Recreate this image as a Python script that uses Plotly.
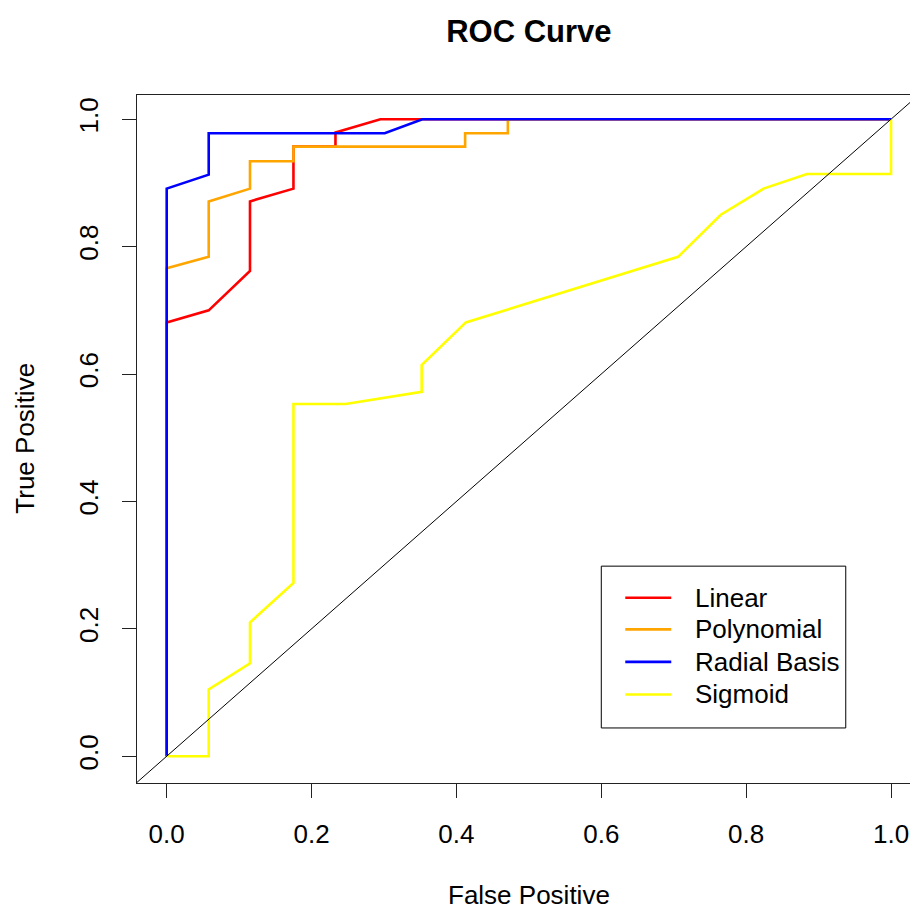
import plotly.graph_objects as go

# ---- data ----
fpr_linear = [0, 0, 0.058, 0.115, 0.115, 0.175, 0.175, 0.233, 0.233, 0.295, 1.0]
tpr_linear = [0, 0.681, 0.700, 0.762, 0.871, 0.891, 0.957, 0.957, 0.979, 1.0, 1.0]

fpr_poly = [0, 0, 0.058, 0.058, 0.115, 0.115, 0.175, 0.175, 0.412, 0.412, 0.471, 0.471, 1.0]
tpr_poly = [0, 0.766, 0.784, 0.871, 0.891, 0.934, 0.934, 0.957, 0.957, 0.978, 0.978, 1.0, 1.0]

fpr_radial = [0, 0, 0.058, 0.058, 0.301, 0.353, 1.0]
tpr_radial = [0, 0.891, 0.913, 0.978, 0.978, 1.0, 1.0]

fpr_sigmoid = [0, 0.058, 0.058, 0.115, 0.115, 0.175, 0.175, 0.247, 0.352, 0.352,
               0.413, 0.706, 0.765, 0.824, 0.884, 1.0, 1.0]
tpr_sigmoid = [0, 0, 0.105, 0.146, 0.210, 0.272, 0.553, 0.553, 0.572, 0.614,
               0.681, 0.784, 0.850, 0.891, 0.914, 0.914, 1.0]

series_names = ["Linear", "Polynomial", "Radial Basis", "Sigmoid"]
series_colors = ["#FF0000", "#FFA500", "#0000FF", "#FFFF00"]
series_x = [fpr_linear, fpr_poly, fpr_radial, fpr_sigmoid]
series_y = [tpr_linear, tpr_poly, tpr_radial, tpr_sigmoid]

tick_vals = [0, 0.2, 0.4, 0.6, 0.8, 1.0]
tick_text = ["0.0", "0.2", "0.4", "0.6", "0.8", "1.0"]

diag = [-0.2, 1.2]

FONT = "Liberation Sans, Arial, sans-serif"

fig = go.Figure()
for nm, col, xs, ys in zip(series_names, series_colors, series_x, series_y):
    fig.add_trace(go.Scatter(x=xs, y=ys, mode="lines", name=nm,
                             line=dict(color=col, width=2.6), showlegend=False))
fig.add_trace(go.Scatter(x=diag, y=diag, mode="lines", name="chance",
                         line=dict(color="black", width=1), showlegend=False))

# manual legend (R-style box)
lx0, lx1, ly0, ly1 = 0.600, 0.9375, 0.0444, 0.2984
fig.add_shape(type="rect", xref="x", yref="y", x0=lx0, x1=lx1, y0=ly0, y1=ly1,
              line=dict(color="black", width=1), fillcolor="white", layer="above")
row_y = [0.2487, 0.1991, 0.1482, 0.0970]
for nm, col, ry in zip(series_names, series_colors, row_y):
    fig.add_shape(type="line", xref="x", yref="y", x0=0.6331, x1=0.6966, y0=ry, y1=ry,
                  line=dict(color=col, width=2.6), layer="above")
    fig.add_annotation(x=0.7262, y=ry, xref="x", yref="y", text=nm, showarrow=False,
                       xanchor="left", yanchor="middle",
                       font=dict(family=FONT, size=26, color="black"))

# axis titles
fig.add_annotation(x=0.507, y=-0.163, xref="paper", yref="paper", text="False Positive",
                   showarrow=False, xanchor="center", yanchor="middle",
                   font=dict(family=FONT, size=26, color="black"))
fig.add_annotation(x=-0.146, y=0.5007, xref="paper", yref="paper", text="True Positive",
                   showarrow=False, xanchor="center", yanchor="middle", textangle=-90,
                   font=dict(family=FONT, size=26, color="black"))

axis_common = dict(showgrid=False, zeroline=False, showline=True, linecolor="#222",
                   linewidth=1, ticks="outside", ticklen=14, tickcolor="#222",
                   tickwidth=1, tickvals=tick_vals, ticktext=tick_text,
                   tickfont=dict(family=FONT, size=26, color="black"))

fig.update_layout(
    width=910, height=909,
    margin=dict(l=137, r=0, t=95, b=126),
    paper_bgcolor="white", plot_bgcolor="white",
    title=dict(text="<b>ROC Curve</b>", x=0.507, xref="paper", xanchor="center",
               y=1 - 31 / 909, yref="container", yanchor="middle",
               font=dict(family=FONT, size=31, color="black")),
    xaxis=dict(range=[-0.041, 1.0262], mirror=True, ticklabelstandoff=14, **axis_common),
    yaxis=dict(range=[-0.042, 1.038], mirror=False, tickangle=-90,
               ticklabelstandoff=14, **axis_common),
)

fig.write_html("out.html")
